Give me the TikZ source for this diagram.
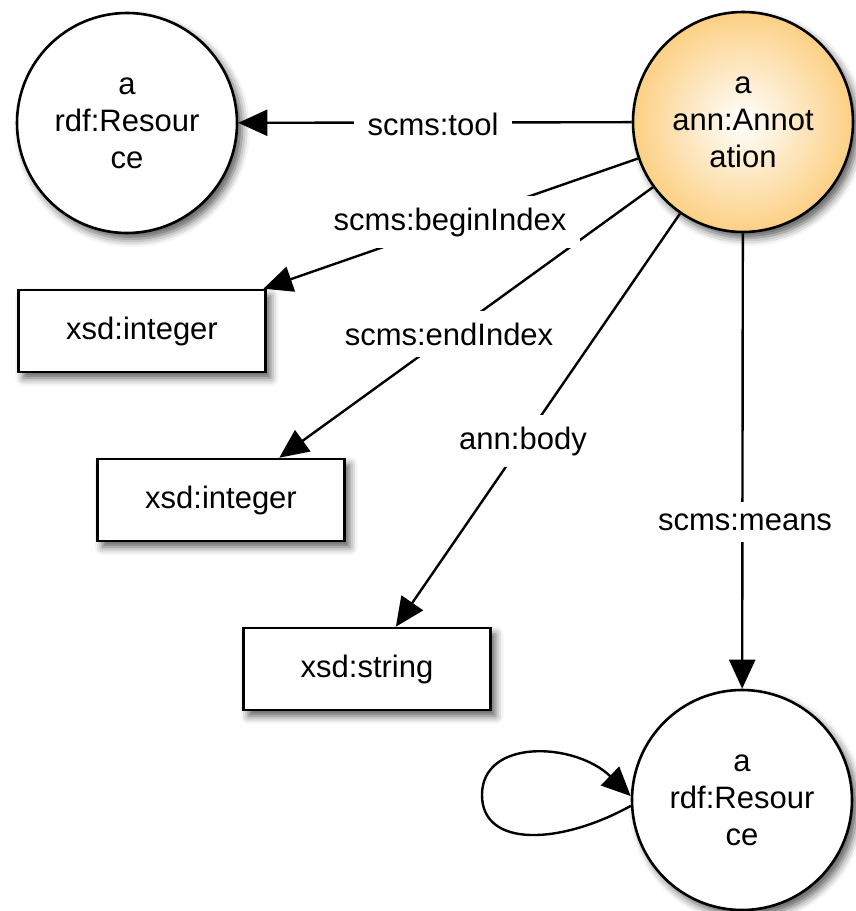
\documentclass[tikz,border=0pt]{standalone}
\usepackage{fontspec}
\setmainfont{Liberation Sans}
\usetikzlibrary{arrows.meta,shadows.blur}
\definecolor{annedge}{RGB}{252,208,132}
\tikzset{
  every picture/.style={x=1pt,y=-1pt},
  softshadow/.style={blur shadow={shadow xshift=5pt,shadow yshift=-6pt,shadow blur radius=8pt,shadow opacity=65}},
  circnode/.style={circle,draw=black,line width=2.6pt,fill=white,minimum size=220pt,inner sep=0pt,
    align=center,font=\fontsize{31}{37}\selectfont,softshadow},
  boxnode/.style={rectangle,draw=black,line width=2.6pt,fill=white,minimum width=247pt,minimum height=82pt,
    inner sep=0pt,font=\fontsize{31}{37}\selectfont,softshadow},
  lbl/.style={fill=white,inner xsep=14pt,inner ysep=12pt,font=\fontsize{31}{37}\selectfont},
  link/.style={line width=2.4pt,-{Triangle[length=29pt,width=26pt]}},
}
\begin{document}
\begin{tikzpicture}
\useasboundingbox (0,0) rectangle (856,911);

% resource and annotation nodes
\node[circnode] (res1) at (127,123) {a\\rdf:Resour\\ce};
\node[circnode,shading=radial,inner color=white,outer color=annedge] (ann) at (743,122) {a\\ann:Annot\\ation};
\node[circnode] (res2) at (742,800) {a\\rdf:Resour\\ce};

% literal boxes
\node[boxnode] (int1) at (142,331) {xsd:integer};
\node[boxnode] (int2) at (221,500) {xsd:integer};
\node[boxnode] (str) at (367,669) {xsd:string};

% property arcs
\draw[link] (ann) -- (res1);
\draw[link] (ann) -- (int1);
\draw[link] (ann) -- (int2);
\draw[link] (ann) -- (str);
\draw[link] (ann) -- (res2);
\draw[link] (res2.183) .. controls (560,845) and (482,848) .. (482,795)
  .. controls (482,738) and (575,742) .. (res2.178);

% property labels
\node[lbl] (ltool) at (433,124) {scms:tool};
\node[lbl] (lbegin) at (450,222) {scms:beginIndex};
\node[lbl] (lend) at (449,334) {scms:endIndex};
\node[lbl] (lbody) at (523,441) {ann:body};
\node[lbl] (lmeans) at (745,522) {scms:means};
\end{tikzpicture}
\end{document}
